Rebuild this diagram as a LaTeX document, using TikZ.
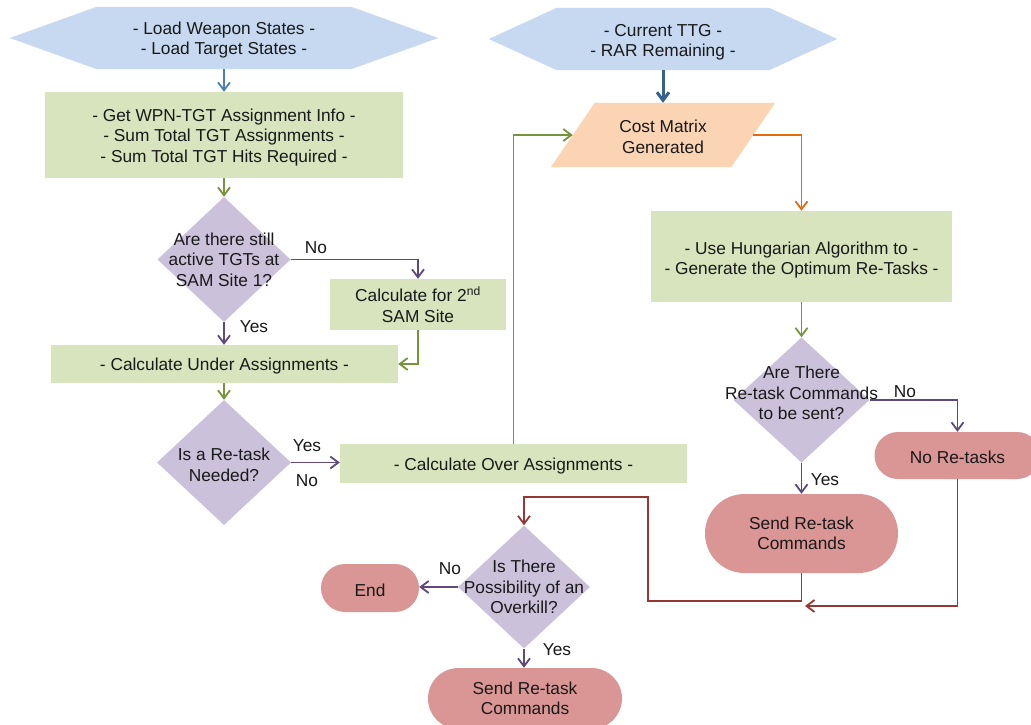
\documentclass[tikz,border=0pt]{standalone}
\usepackage{fontspec}
\setmainfont{Liberation Sans}
\usetikzlibrary{arrows.meta,shapes.geometric,shapes.misc,backgrounds,calc}

\definecolor{hexfill}{HTML}{C6D9F1}
\definecolor{boxfill}{HTML}{D7E4BD}
\definecolor{decfill}{HTML}{CCC1DA}
\definecolor{peach}{HTML}{FBD4B4}
\definecolor{termfill}{HTML}{D99694}
\definecolor{blueA}{HTML}{4A7EBB}
\definecolor{blueB}{HTML}{376092}
\definecolor{grn}{HTML}{77933C}
\definecolor{pur}{HTML}{5F497A}
\definecolor{orn}{HTML}{E46C0A}
\definecolor{rd}{HTML}{953735}

% invisible strut that raises the first text line's top, pushing a block down
\newcommand{\toprule}[1]{\rule{0pt}{#1}}

\begin{document}
\begin{tikzpicture}[x=1pt,y=-1pt,
  every node/.style={font=\fontsize{17.3}{20.5}\selectfont, text=black!90},
  lowered/.style={execute at begin node={\rule{0pt}{17pt}}},
  txt/.style={rectangle, inner sep=0pt, align=center},
  box/.style={rectangle, fill=boxfill, inner sep=0pt, align=center},
  decision/.style={diamond, fill=decfill, inner sep=0pt},
  terminal/.style={rounded rectangle, fill=termfill, inner sep=0pt, align=center},
  flow/.style={line width=1.8pt, -{Straight Barb[length=8pt,width=12pt]}},
]
\useasboundingbox (0,0) rectangle (1031,725);

% ---- left column ----
\node[txt, minimum width=254pt, minimum height=62pt] (h1) at (224,38)
  {\toprule{17pt}- Load Weapon States -\\- Load Target States -};
\node[box, minimum width=358pt, minimum height=86pt] (r1) at (224,135)
  {\toprule{17.5pt}- Get WPN-TGT Assignment Info -\\- Sum Total TGT Assignments -\\- Sum Total TGT Hits Required -};
\node[decision, minimum width=133pt, minimum height=125pt,
  label={[txt]center:{Are there still\\active TGTs at\\SAM Site 1?}}] (d1) at (224,259.5) {};
\node[box, minimum width=176pt, minimum height=51pt] (c2) at (418,304.5)
  {Calculate for 2\textsuperscript{nd}\\SAM Site};
\node[box, lowered, minimum width=347pt, minimum height=38pt] (r2) at (224.5,364)
  {- Calculate Under Assignments -};
\node[decision, minimum width=134pt, minimum height=125pt,
  label={[txt,yshift=-2.5pt]center:{Is a Re-task\\Needed?}}] (d2) at (224,462.5) {};
\node[box, lowered, minimum width=347pt, minimum height=39pt] (r3) at (513.5,463.5)
  {- Calculate Over Assignments -};

% ---- right column ----
\node[txt, minimum width=212pt, minimum height=62pt] (h2) at (663,39)
  {\toprule{18.5pt}- Current TTG -\\- RAR Remaining -};
\node[txt, minimum width=180pt, minimum height=64pt] (cm) at (663,135)
  {\toprule{16.5pt}Cost Matrix\\Generated};
\node[box, minimum width=301pt, minimum height=91pt] (r4) at (801.5,256.5)
  {\toprule{19.5pt}- Use Hungarian Algorithm to -\\- Generate the Optimum Re-Tasks -};
\node[decision, minimum width=136pt, minimum height=125pt,
  label={[txt,yshift=7pt]center:{Are There\\Re-task Commands\\to be sent?}}] (d3) at (801.5,400) {};
\node[terminal, lowered, minimum width=166pt, minimum height=47pt] (nr) at (957.5,455.5) {No Re-tasks};
\node[terminal, minimum width=193pt, minimum height=79pt] (s1) at (801.5,533.5)
  {Send Re-task\\Commands};

% ---- bottom ----
\node[decision, minimum width=132pt, minimum height=123pt,
  label={[txt]center:{Is There\\Possibility of an\\Overkill?}}] (d4) at (524,587) {};
\node[terminal, lowered, minimum width=98pt, minimum height=48pt] (e) at (370,588) {End};
\node[terminal, minimum width=194pt, minimum height=61pt] (s2) at (525,698.5)
  {Send Re-task\\Commands};

% ---- branch labels ----
\node (n1) at (316,248) {No};
\node (y1) at (254,327) {Yes};
\node (y2) at (307,446) {Yes};
\node (n2) at (307,481) {No};
\node (n3) at (905,392) {No};
\node (y3) at (825,480) {Yes};
\node (n4) at (450,569) {No};
\node (y4) at (557,650) {Yes};

% ---- hexagon and parallelogram outlines behind their text ----
\begin{scope}[on background layer]
  \fill[white] (0,0) rectangle (1031,725);
  \fill[hexfill] ($(h1.west)+(-87,0)$) -- (h1.north west) -- (h1.north east)
    -- ($(h1.east)+(87,0)$) -- (h1.south east) -- (h1.south west) -- cycle;
  \fill[hexfill] ($(h2.west)+(-68,0)$) -- (h2.north west) -- (h2.north east)
    -- ($(h2.east)+(68,0)$) -- (h2.south east) -- (h2.south west) -- cycle;
  \fill[peach] ($(cm.south west)+(-22,0)$) -- ($(cm.north west)+(22,0)$)
    -- ($(cm.north east)+(22,0)$) -- ($(cm.south east)+(-22,0)$) -- cycle;
\end{scope}

% ---- connectors ----
\draw[flow, blueA] (h1.south) -- (r1.north);
\draw[flow, blueB, line width=3pt] (h2.south) -- (cm.north);
\draw[flow, grn] (r1.south) -- (d1.north);
\draw[flow, pur] (d1.east) -| (c2.north);
\draw[flow, pur] (d1.south) -- (d1.south |- r2.north);
\draw[flow, grn] (c2.south) |- (r2.east);
\draw[flow, grn] (d2.north |- r2.south) -- (d2.north);
\draw[flow, pur] (d2.east) -- (d2.east -| r3.west);
\draw[flow, grn] (r3.north) |- (cm.west);
\draw[flow, orn] (cm.east) -| (r4.north);
\draw[flow, grn] (r4.south) -- (d3.north);
\draw[flow, pur] (d3.east) -| (nr.north);
\draw[flow, pur] (d3.south) -- (s1.north);

\coordinate (lp1) at (648,601);
\coordinate (lp2) at (648,497);
\coordinate (lp3) at (805,606);
\draw[flow, rd] (s1.south) |- (lp1) -- (lp2) -| (d4.north);
\draw[flow, rd] (nr.south) |- (lp3);
\draw[flow, pur] (d4.west) -- (d4.west -| e.east);
\draw[flow, pur] (d4.south) -- (d4.south |- s2.north);
\end{tikzpicture}
\end{document}
